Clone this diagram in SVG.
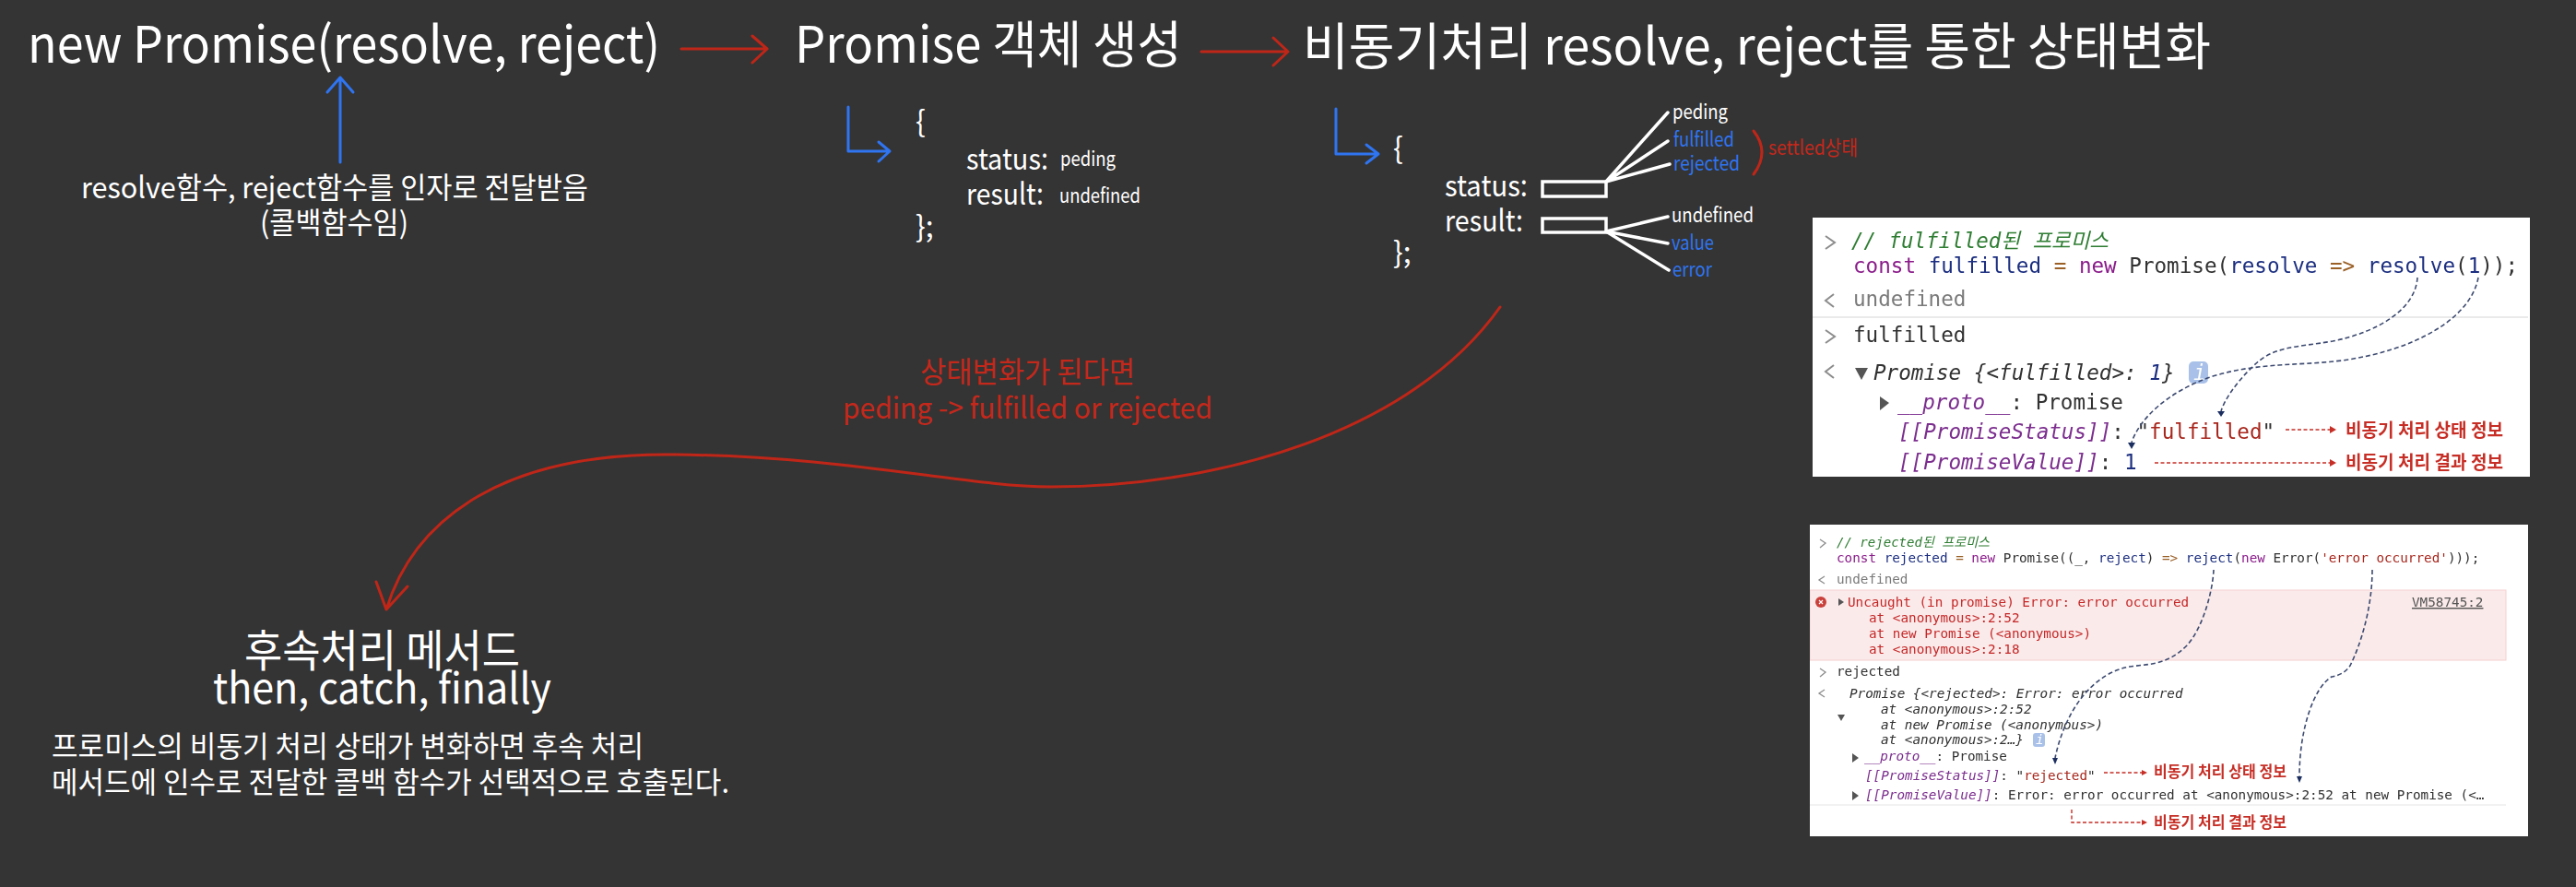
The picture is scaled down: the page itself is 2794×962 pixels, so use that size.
<svg xmlns="http://www.w3.org/2000/svg" width="2794" height="962" viewBox="0 0 2794 962">
<style>
text{font-family:"Noto Sans CJK KR","Noto Sans",sans-serif;fill:#fff}
.h1{font-size:55px}
.h2{font-size:32px}
.kv{font-size:32px}
.sm{font-size:22px}
.lb{font-size:24px}
.red{fill:#c4281b}
.blue{fill:#2f74f0}
.cr{fill:none;stroke:#bf2618;stroke-width:3;stroke-linecap:round;stroke-linejoin:round}
.cb{fill:none;stroke:#2f74f0;stroke-width:3;stroke-linecap:round;stroke-linejoin:round}
.cw{fill:none;stroke:#fff;stroke-width:3.5;stroke-linecap:round}
.shot text{font-family:"DejaVu Sans Mono","Noto Sans CJK KR",monospace;fill:#303030}
.s1 text{font-size:22.6px}
.s2 text{font-size:14.3px}
.shot .tag{font-family:"Noto Sans CJK KR",sans-serif;font-weight:700;fill:#c62f26}
.s1 .tag{font-size:20px}
.s2 .tag{font-size:17px}
.shot .cm{fill:#2e7d32;font-style:italic}
.kw{fill:#8a1b8a}
.vr{fill:#1c2f80}
.op{fill:#9a6028}
.st{fill:#a8281e}
.shot .gr{fill:#7a7a7a}
.pu{fill:#7b2d8e;font-style:italic}
.it{font-style:italic}
.shot .er{fill:#c62828}
.shot .vm{fill:#555;text-decoration:underline}
.shot .ic{fill:#fff}
.ch{fill:none;stroke:#8c8c8c;stroke-width:2}
.dn{fill:none;stroke:#3c4a70;stroke-width:1.6;stroke-dasharray:5 3}
.dr{fill:none;stroke:#c62f26;stroke-width:1.4;stroke-dasharray:4 2.5}
.hn{fill:#1c2f60}
.hr{fill:#c62f26}
.tri{fill:#555}
</style>
<defs>
<filter id="soft" x="0" y="0" width="1" height="1"><feGaussianBlur stdDeviation="0.65"/></filter>
</defs>
<rect width="2794" height="962" fill="#343434"/>

<g id="node-new-promise">
<text class="h1" x="30" y="68" textLength="686" lengthAdjust="spacingAndGlyphs">new Promise(resolve, reject)</text>
</g>
<g id="node-callback-note">
<text class="h2" x="88" y="215" textLength="550" lengthAdjust="spacingAndGlyphs">resolve함수, reject함수를 인자로 전달받음</text>
<text class="h2" x="282" y="253" textLength="161" lengthAdjust="spacingAndGlyphs">(콜백함수임)</text>
</g>
<g id="node-promise-object">
<text class="h1" x="862" y="68" textLength="420" lengthAdjust="spacingAndGlyphs">Promise 객체 생성</text>
<text class="kv" x="993" y="143">{</text>
<text class="kv" x="1048" y="184" textLength="89" lengthAdjust="spacingAndGlyphs">status:</text>
<text class="sm" x="1150" y="180" textLength="60" lengthAdjust="spacingAndGlyphs">peding</text>
<text class="kv" x="1048" y="222" textLength="84" lengthAdjust="spacingAndGlyphs">result:</text>
<text class="sm" x="1149" y="220" textLength="88" lengthAdjust="spacingAndGlyphs">undefined</text>
<text class="kv" x="993" y="257">};</text>
</g>
<g id="node-state-change">
<text class="h1" x="1413" y="70" textLength="985" lengthAdjust="spacingAndGlyphs">비동기처리 resolve, reject를 통한 상태변화</text>
<text class="kv" x="1511" y="172">{</text>
<text class="kv" x="1567" y="213" textLength="90" lengthAdjust="spacingAndGlyphs">status:</text>
<text class="kv" x="1567" y="251" textLength="85" lengthAdjust="spacingAndGlyphs">result:</text>
<text class="kv" x="1511" y="285">};</text>
<rect x="1673" y="197" width="69" height="16" fill="none" stroke="#fff" stroke-width="3.5"/>
<rect x="1673" y="237" width="69" height="15" fill="none" stroke="#fff" stroke-width="3.5"/>
<text class="sm" x="1814" y="129" textLength="60" lengthAdjust="spacingAndGlyphs">peding</text>
<text class="sm blue" x="1815" y="159" textLength="66" lengthAdjust="spacingAndGlyphs">fulfilled</text>
<text class="sm blue" x="1815" y="185" textLength="72" lengthAdjust="spacingAndGlyphs">rejected</text>
<text class="sm" x="1813" y="241" textLength="89" lengthAdjust="spacingAndGlyphs">undefined</text>
<text class="sm blue" x="1813" y="271" textLength="46" lengthAdjust="spacingAndGlyphs">value</text>
<text class="sm blue" x="1814" y="300" textLength="43" lengthAdjust="spacingAndGlyphs">error</text>
<text class="sm red" x="1918" y="168" textLength="97" lengthAdjust="spacingAndGlyphs">settled상태</text>
</g>
<g id="node-change-note">
<text class="h2 red" x="998" y="415" textLength="233" lengthAdjust="spacingAndGlyphs">상태변화가 된다면</text>
<text class="h2 red" x="914" y="454" textLength="401" lengthAdjust="spacingAndGlyphs">peding -&gt; fulfilled or rejected</text>
</g>
<g id="node-followup">
<text x="265" y="723" font-size="48" textLength="299" lengthAdjust="spacingAndGlyphs">후속처리 메서드</text>
<text x="231" y="763" font-size="46" textLength="367" lengthAdjust="spacingAndGlyphs">then, catch, finally</text>
<text class="h2" x="56" y="821" textLength="642" lengthAdjust="spacingAndGlyphs">프로미스의 비동기 처리 상태가 변화하면 후속 처리</text>
<text class="h2" x="56" y="860" textLength="735" lengthAdjust="spacingAndGlyphs">메서드에 인수로 전달한 콜백 함수가 선택적으로 호출된다.</text>
</g>

<g id="connectors">
<path class="cr" d="M739 53H832M816 39L832 53L816 68"/>
<path class="cr" d="M1303 56H1397M1381 41L1397 56L1381 71"/>
<path class="cb" d="M369 176V84M355 100L369 84L383 100"/>
<path class="cb" d="M920 116V164H965M953 154L965 164L953 175"/>
<path class="cb" d="M1449 118V167H1495M1482 157L1495 167L1482 177"/>
<path class="cw" d="M1742 197L1809 122M1742 197L1809 153M1742 197L1811 178M1742 251L1809 235M1742 251L1809 264M1742 251L1810 293"/>
<path class="cr" d="M1902 142Q1920 165 1902 189"/>
<path class="cr" d="M1627 333C1530 470 1320 528 1139 528C1050 528 920 495 733 493C550 490 450 560 419 661M408 631L419 661L442 636"/>
</g>

<g id="node-fulfilled-screenshot" class="shot s1">
<g filter="url(#soft)">
<rect x="1966" y="236" width="778" height="281" fill="#fff"/>
<path d="M1966 344H2742" stroke="#eaeaea" stroke-width="2"/>
<path class="ch" d="M1980 256L1990 263L1980 270M1980 358L1990 365L1980 372"/>
<path class="ch" d="M1989 319L1980 326L1989 333M1989 396L1980 403L1989 410"/>
<text class="cm" x="2008" y="269" textLength="279" lengthAdjust="spacingAndGlyphs">// fulfilled된 프로미스</text>
<text x="2010" y="296"><tspan class="kw">const</tspan> <tspan class="vr">fulfilled</tspan> <tspan class="op">=</tspan> <tspan class="kw">new</tspan> Promise(<tspan class="vr">resolve</tspan> <tspan class="op">=&gt;</tspan> <tspan class="vr">resolve</tspan>(<tspan class="vr">1</tspan>));</text>
<text class="gr" x="2010" y="332">undefined</text>
<text x="2010" y="371">fulfilled</text>
<polygon class="tri" points="2012,399 2026,399 2019,412"/>
<text class="it" x="2032" y="412">Promise {&lt;fulfilled&gt;: <tspan class="vr">1</tspan>}</text>
<rect x="2374" y="392" width="21" height="24" rx="5" fill="#a9c1e8"/>
<text class="it ic" x="2379" y="412">i</text>
<polygon class="tri" points="2039,430 2039,445 2049,437"/>
<text x="2058" y="444"><tspan class="pu">__proto__</tspan>: Promise</text>
<text x="2059" y="476"><tspan class="pu">[[PromiseStatus]]</tspan>: <tspan>"</tspan><tspan class="st">fulfilled</tspan><tspan>"</tspan></text>
<text x="2059" y="509"><tspan class="pu">[[PromiseValue]]</tspan>: <tspan class="vr">1</tspan></text>
<text class="tag" x="2544" y="474" textLength="171" lengthAdjust="spacingAndGlyphs">비동기 처리 상태 정보</text>
<text class="tag" x="2544" y="509" textLength="171" lengthAdjust="spacingAndGlyphs">비동기 처리 결과 정보</text>
<path class="dr" d="M2479 466H2528M2337 502H2528"/>
<polygon class="hr" points="2527,462 2534,466 2527,470"/>
<polygon class="hr" points="2527,498 2534,502 2527,506"/>
<path class="dn" d="M2622 301C2620 335 2580 360 2530 370C2490 377 2465 375 2443 398C2425 415 2412 435 2409 446"/>
<path class="dn" d="M2688 301C2680 345 2620 380 2540 391C2490 397 2450 393 2400 408C2350 425 2320 455 2312 480"/>
<polygon class="hn" points="2405,446 2413,446 2409,452"/>
<polygon class="hn" points="2308,480 2316,480 2312,487"/>
</g>
</g>

<g id="node-rejected-screenshot" class="shot s2">
<g filter="url(#soft)">
<rect x="1963" y="569" width="779" height="338" fill="#fff"/>
<rect x="1963" y="640" width="755" height="76" fill="#faeaea" stroke="#f6d0d0" stroke-width="1"/>
<path d="M1963 873H2718" stroke="#eeeeee" stroke-width="1.5"/>
<path class="ch" style="stroke-width:1.3" d="M1974 585L1980 589L1974 594M1974 725L1980 729L1974 734M1979 625L1973 629L1979 633M1979 748L1973 752L1979 756"/>
<text class="cm" x="1992" y="593" textLength="166" lengthAdjust="spacingAndGlyphs">// rejected된 프로미스</text>
<text x="1992" y="610"><tspan class="kw">const</tspan> <tspan class="vr">rejected</tspan> <tspan class="op">=</tspan> <tspan class="kw">new</tspan> Promise((_, <tspan class="vr">reject</tspan>) <tspan class="op">=&gt;</tspan> <tspan class="vr">reject</tspan>(<tspan class="kw">new</tspan> Error(<tspan class="st">'error occurred'</tspan>)));</text>
<text class="gr" x="1992" y="633">undefined</text>
<circle cx="1975" cy="653" r="6" fill="#c9403a"/>
<path d="M1973 651L1977 655M1977 651L1973 655" stroke="#fff" stroke-width="1.2"/>
<polygon class="tri" points="1994,649 1994,657 2000,653"/>
<text class="er" x="2004" y="658">Uncaught (in promise) Error: error occurred</text>
<text class="er" x="2027" y="675">at &lt;anonymous&gt;:2:52</text>
<text class="er" x="2027" y="692">at new Promise (&lt;anonymous&gt;)</text>
<text class="er" x="2027" y="709">at &lt;anonymous&gt;:2:18</text>
<text class="vm" x="2616" y="658">VM58745:2</text>
<text x="1992" y="733">rejected</text>
<text class="it" x="2006" y="757">Promise {&lt;rejected&gt;: Error: error occurred</text>
<polygon class="tri" points="1993,775 2001,775 1997,782"/>
<text class="it" x="2040" y="774">at &lt;anonymous&gt;:2:52</text>
<text class="it" x="2040" y="791">at new Promise (&lt;anonymous&gt;)</text>
<text class="it" x="2040" y="807">at &lt;anonymous&gt;:2…}</text>
<rect x="2205" y="795" width="13" height="15" rx="3" fill="#a9c1e8"/>
<text class="it ic" x="2208" y="807">i</text>
<polygon class="tri" points="2009,817 2009,827 2016,822"/>
<text x="2022" y="825"><tspan class="pu">__proto__</tspan>: Promise</text>
<text x="2023" y="846"><tspan class="pu">[[PromiseStatus]]</tspan>: "<tspan class="st">rejected</tspan>"</text>
<polygon class="tri" points="2009,858 2009,868 2016,863"/>
<text x="2023" y="867"><tspan class="pu">[[PromiseValue]]</tspan>: Error: error occurred at &lt;anonymous&gt;:2:52 at new Promise (&lt;…</text>
<text class="tag" x="2336" y="843" textLength="144" lengthAdjust="spacingAndGlyphs">비동기 처리 상태 정보</text>
<text class="tag" x="2336" y="898" textLength="144" lengthAdjust="spacingAndGlyphs">비동기 처리 결과 정보</text>
<path class="dr" d="M2282 838H2324M2247 878V892H2324"/>
<polygon class="hr" points="2323,835 2329,838 2323,841"/>
<polygon class="hr" points="2323,889 2329,892 2323,895"/>
<path class="dn" d="M2401 618C2400 640 2390 680 2372 700C2350 722 2330 720 2310 723C2270 730 2240 770 2229 822"/>
<path class="dn" d="M2573 618C2573 660 2560 700 2549 722C2542 732 2533 733 2529 734C2510 745 2494 790 2494 842"/>
<polygon class="hn" points="2226,822 2232,822 2229,829"/>
<polygon class="hn" points="2491,842 2497,842 2494,849"/>
</g>
</g>
</svg>
